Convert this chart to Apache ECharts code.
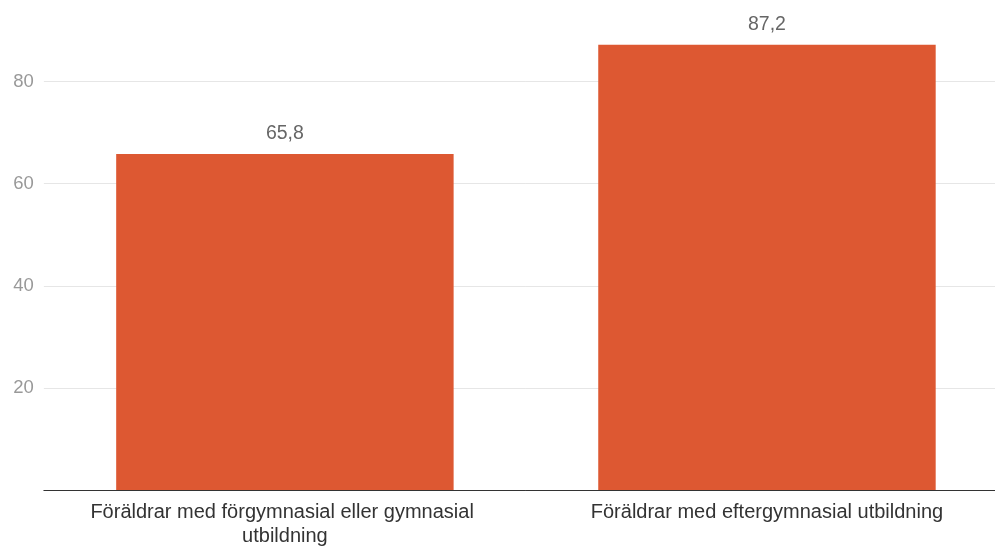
<!DOCTYPE html>
<html>
<head>
<meta charset="utf-8">
<script src="https://cdn.jsdelivr.net/npm/echarts@6/dist/echarts.min.js"></script>
<style>
html,body{margin:0;padding:0;background:#fff;overflow:hidden;width:995px;height:548px;position:relative;}
#chart{position:absolute;left:0;top:-30px;width:1030px;height:578px;}
</style>
</head>
<body>
<div id="chart"></div>
<script>
const categories = ["Föräldrar med förgymnasial eller gymnasial utbildning", "Föräldrar med eftergymnasial utbildning"];
const values = [65.8, 87.2];
const yTicks = [0, 20, 40, 60, 80, 100];

const chart = echarts.init(document.getElementById('chart'));
chart.setOption({
  animation: false,
  textStyle: { fontFamily: 'Liberation Sans, Arial, sans-serif' },
  grid: { left: 40, top: 6, width: 968, height: 519, containLabel: false },
  xAxis: {
    type: 'category',
    data: categories,
    axisLine: { lineStyle: { color: '#333', width: 1 } },
    axisTick: { show: false },
    axisLabel: {
      color: '#333', fontSize: 20, margin: 10, lineHeight: 24,
      width: 440, overflow: 'break', interval: 0
    }
  },
  yAxis: {
    type: 'value',
    min: yTicks[0], max: yTicks[yTicks.length - 1], interval: 20,
    axisLine: { show: false },
    axisTick: { show: false },
    splitLine: { lineStyle: { color: '#e6e6e6', width: 1 } },
    axisLabel: { color: '#999', fontSize: 18.5, margin: 10, showMinLabel: false }
  },
  series: [{
    type: 'bar',
    data: values,
    barWidth: '70%',
    itemStyle: { color: '#DD5832' },
    label: {
      show: true, position: 'top', distance: 10,
      color: '#666', fontSize: 19.5,
      formatter: p => p.value.toFixed(1).replace('.', ',')
    }
  }]
});
</script>
</body>
</html>
